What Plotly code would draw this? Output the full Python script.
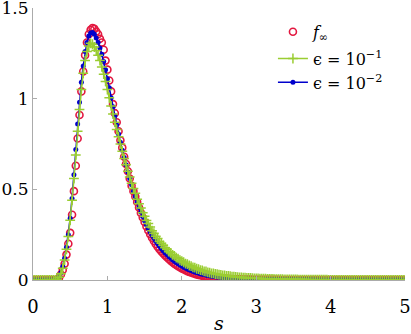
import plotly.graph_objects as go

# ── Data ─────────────────────────────────────────────────────────
# sample grid in s, step 0.025 from 0 to 5
s = [round(i * 0.025, 3) for i in range(201)]

f_inf = [
    0, 0, 0, 0, 0, 0, 0, 0, 0, 0,
    0, 0, 0, 0.002, 0.012, 0.03, 0.055, 0.09, 0.14, 0.20,
    0.26, 0.36, 0.49, 0.63, 0.78, 0.91, 1.04, 1.15, 1.24, 1.31,
    1.355, 1.38, 1.39, 1.385, 1.37, 1.355, 1.33, 1.31, 1.27, 1.21,
    1.16, 1.10, 1.04, 0.97, 0.92, 0.87, 0.82, 0.77, 0.73, 0.68,
    0.64, 0.60, 0.56, 0.52, 0.49, 0.46, 0.43, 0.40, 0.37, 0.345,
    0.32, 0.295, 0.273, 0.252, 0.233, 0.215, 0.199, 0.184, 0.170, 0.158,
    0.147, 0.136, 0.126, 0.116, 0.107, 0.098, 0.090, 0.083, 0.076, 0.070,
    0.064, 0.059, 0.054, 0.049, 0.045, 0.041, 0.037, 0.034, 0.031, 0.028,
    0.026, 0.023, 0.021, 0.019, 0.017, 0.016, 0.014, 0.013, 0.012, 0.011,
    0.010, 0.009, 0.008, 0.0075, 0.007, 0.006, 0.0055, 0.005, 0.0045, 0.004,
    0.0037, 0.0034, 0.003, 0.0028, 0.0025, 0.0023, 0.002, 0.0018, 0.0017, 0.0015,
    0.0014, 0.0013, 0.0012, 0.0011, 0.001, 0.0009, 0.0008, 0.0008, 0.0007, 0.0006,
    0.0006, 0.0005, 0.0005, 0.0004, 0.0004, 0.0003, 0.0003, 0.0003, 0.0002, 0.0002,
    0, 0, 0, 0, 0, 0, 0, 0, 0, 0,
    0, 0, 0, 0, 0, 0, 0, 0, 0, 0,
    0, 0, 0, 0, 0, 0, 0, 0, 0, 0,
    0, 0, 0, 0, 0, 0, 0, 0, 0, 0,
    0, 0, 0, 0, 0, 0, 0, 0, 0, 0,
    0, 0, 0, 0, 0, 0, 0, 0, 0, 0,
    0,
]

eps_1e1 = [
    0, 0, 0, 0, 0, 0, 0, 0, 0, 0,
    0, 0, 0, 0.004, 0.015, 0.035, 0.065, 0.11, 0.17, 0.24,
    0.33, 0.44, 0.56, 0.69, 0.82, 0.94, 1.05, 1.14, 1.21, 1.26,
    1.29, 1.305, 1.30, 1.285, 1.265, 1.24, 1.21, 1.175, 1.135, 1.095,
    1.05, 1.005, 0.96, 0.915, 0.87, 0.83, 0.79, 0.75, 0.71, 0.67,
    0.635, 0.60, 0.568, 0.533, 0.505, 0.478, 0.446, 0.42, 0.397, 0.371,
    0.352, 0.328, 0.311, 0.292, 0.272, 0.258, 0.241, 0.229, 0.213, 0.203,
    0.191, 0.178, 0.169, 0.157, 0.15, 0.139, 0.133, 0.123, 0.118, 0.109,
    0.104, 0.098, 0.090, 0.087, 0.080, 0.077, 0.070, 0.068, 0.062, 0.060,
    0.055, 0.053, 0.048, 0.047, 0.042, 0.041, 0.037, 0.036, 0.033, 0.032,
    0.030, 0.028, 0.026, 0.025, 0.023, 0.022, 0.021, 0.019, 0.018, 0.017,
    0.016, 0.015, 0.014, 0.013, 0.013, 0.012, 0.011, 0.011, 0.010, 0.0095,
    0.009, 0.0085, 0.008, 0.0076, 0.0072, 0.0068, 0.0064, 0.006, 0.0057, 0.0054,
    0.0051, 0.0048, 0.0046, 0.0043, 0.0041, 0.0039, 0.0037, 0.0035, 0.0033, 0.0031,
    0.003, 0.0028, 0.0027, 0.0026, 0.0024, 0.0023, 0.0022, 0.0021, 0.002, 0.0019,
    0.0018, 0.0017, 0.0017, 0.0016, 0.0015, 0.0015, 0.0014, 0.0013, 0.0013, 0.0012,
    0.0012, 0.0011, 0.0011, 0.001, 0.001, 0.001, 0.0009, 0.0009, 0.0009, 0.0008,
    0.0008, 0.0008, 0.0007, 0.0007, 0.0007, 0.0006, 0.0006, 0.0006, 0.0006, 0.0005,
    0.0005, 0.0005, 0.0005, 0.0004, 0.0004, 0.0004, 0.0004, 0.0004, 0.0003, 0.0003,
    0.0003, 0.0003, 0.0003, 0.0003, 0.0002, 0.0002, 0.0002, 0.0002, 0.0002, 0.0002,
    0.0002,
]

eps_1e2 = [
    0, 0, 0, 0, 0, 0, 0, 0, 0, 0,
    0, 0, 0, 0.005, 0.018, 0.04, 0.075, 0.12, 0.18, 0.25,
    0.34, 0.45, 0.58, 0.72, 0.86, 0.98, 1.09, 1.18, 1.26, 1.31,
    1.345, 1.362, 1.365, 1.355, 1.335, 1.31, 1.28, 1.245, 1.205, 1.16,
    1.11, 1.06, 1.005, 0.955, 0.905, 0.855, 0.805, 0.76, 0.715, 0.675,
    0.635, 0.595, 0.56, 0.525, 0.49, 0.46, 0.43, 0.40, 0.375, 0.35,
    0.327, 0.305, 0.284, 0.265, 0.247, 0.23, 0.214, 0.2, 0.186, 0.173,
    0.161, 0.15, 0.14, 0.13, 0.121, 0.112, 0.104, 0.097, 0.09, 0.083,
    0.077, 0.071, 0.066, 0.061, 0.056, 0.052, 0.048, 0.044, 0.041, 0.038,
    0.035, 0.032, 0.03, 0.027, 0.025, 0.023, 0.021, 0.02, 0.018, 0.017,
    0.016, 0.015, 0.014, 0.013, 0.012, 0.011, 0.010, 0.0095, 0.009, 0.0085,
    0.008, 0.0075, 0.007, 0.0065, 0.006, 0.0056, 0.0052, 0.0048, 0.0045, 0.0042,
    0.004, 0.0037, 0.0035, 0.0033, 0.003, 0.0029, 0.0027, 0.0025, 0.0024, 0.0022,
    0.0021, 0.002, 0.0019, 0.0018, 0.0017, 0.0016, 0.0015, 0.0014, 0.0013, 0.0013,
    0.0012, 0.0011, 0.0011, 0.001, 0.001, 0.0009, 0.0009, 0.0008, 0.0008, 0.0008,
    0.0007, 0.0007, 0.0006, 0.0006, 0.0006, 0.0005, 0.0005, 0.0005, 0.0005, 0.0004,
    0.0004, 0.0004, 0.0004, 0.0003, 0.0003, 0.0003, 0.0003, 0.0003, 0.0002, 0.0002,
    0.0002, 0.0002, 0.0002, 0.0002, 0.0002, 0.0001, 0.0001, 0.0001, 0.0001, 0.0001,
    0.0001, 0.0001, 0.0001, 0.0001, 0.0001, 0.0001, 0.0001, 0.0001, 0, 0,
    0, 0, 0, 0, 0, 0, 0, 0, 0, 0,
    0,
]

x_ticks = [0, 1, 2, 3, 4, 5]
y_ticks = [0, 0.5, 1, 1.5]
y_tick_text = ['0', '0.5', '1', '1.5']

RED = '#E3173F'
GREEN = '#9ACD32'
BLUE = '#0000CC'
AXIS = '#ABABAB'
FONT = 'DejaVu Serif'

fig = go.Figure()

fig.add_trace(go.Scatter(
    x=s, y=f_inf, name='<i>f</i><sub>∞</sub>',
    mode='markers', legendrank=1, legendgroup='limit',
    marker=dict(symbol='circle-open', size=7, color=RED,
                line=dict(color=RED, width=1.6)),
))
fig.add_trace(go.Scatter(
    x=s, y=eps_1e2, name='ϵ = 10<sup>−2</sup>',
    mode='lines+markers', legendrank=3, legendgroup='eps',
    line=dict(color=BLUE, width=1.6),
    marker=dict(symbol='circle', size=5, color=BLUE),
))
fig.add_trace(go.Scatter(
    x=s, y=eps_1e1, name='ϵ = 10<sup>−1</sup>',
    mode='lines+markers', legendrank=2, legendgroup='eps',
    line=dict(color=GREEN, width=1.6),
    marker=dict(symbol='cross-thin', size=7,
                line=dict(color=GREEN, width=1.5)),
))

fig.update_layout(
    width=411, height=334,
    paper_bgcolor='white', plot_bgcolor='white',
    font=dict(family=FONT, color='black', size=18),
    margin=dict(l=33, r=6, t=8, b=54),
    showlegend=True,
    legend=dict(x=0.645, y=0.975, xanchor='left', yanchor='top',
                bgcolor='rgba(0,0,0,0)', borderwidth=0,
                font=dict(size=16, family=FONT),
                tracegroupgap=3, itemwidth=30),
    xaxis=dict(range=[0, 5], tickvals=x_ticks,
               showgrid=False, zeroline=False, automargin=False,
               showline=True, linecolor=AXIS, linewidth=1,
               ticks='inside', ticklen=4, tickcolor=AXIS,
               ticklabeloverflow='allow', ticklabelstandoff=10,
               tickfont=dict(size=18, family=FONT),
               title=dict(text='<i>s</i>', standoff=12,
                          font=dict(size=19, family=FONT))),
    yaxis=dict(range=[0, 1.5], tickvals=y_ticks, ticktext=y_tick_text,
               showgrid=False, zeroline=False, automargin=False,
               showline=True, linecolor=AXIS, linewidth=1,
               ticks='inside', ticklen=4, tickcolor=AXIS,
               ticklabeloverflow='allow', ticklabelstandoff=0,
               tickfont=dict(size=17, family=FONT)),
)

# drop the default 8px page margin so the figure sits at the window corner
fig.write_html("out.html", config={'displayModeBar': False},
               post_script="document.body.style.margin='0';")
